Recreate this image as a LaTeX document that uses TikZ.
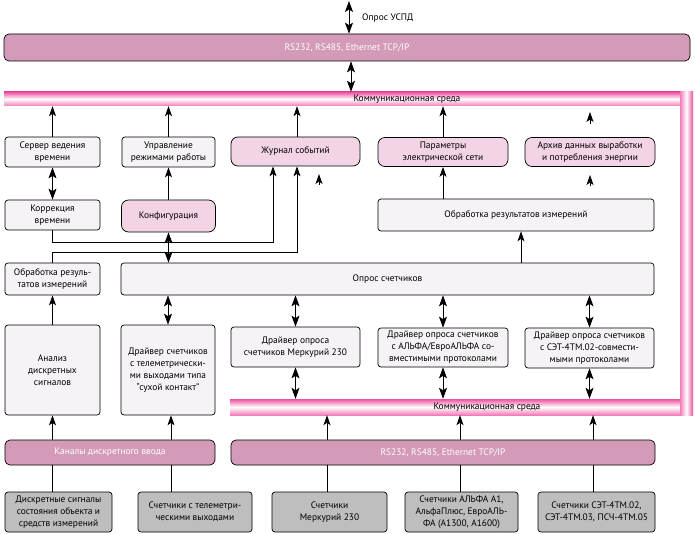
\documentclass[tikz,border=0pt]{standalone}
\usepackage{fontspec}
\setmainfont{PT Sans}
\usetikzlibrary{arrows.meta}
\definecolor{barpink}{RGB}{212,155,185}
\definecolor{lpink}{RGB}{243,212,228}
\definecolor{lgrey}{RGB}{245,243,245}
\definecolor{dgrey}{RGB}{190,190,190}
\definecolor{bandpink}{RGB}{238,80,160}
\begin{document}
\begin{tikzpicture}[x=1pt,y=-1pt,
 box/.style={draw=black, line width=0.7pt, align=center, inner sep=1pt, font=\fontsize{9.4}{12}\selectfont},
 gbox/.style={box, fill=lgrey, rounded corners=3pt},
 pbox/.style={box, fill=lpink, rounded corners=7pt},
 bar/.style={box, fill=barpink, rounded corners=5pt, text=white},
 dbox/.style={box, fill=dgrey, rounded corners=3pt},
 hband/.style={inner sep=0pt, top color=bandpink, bottom color=bandpink!75, middle color=white},
 vband/.style={inner sep=0pt, left color=bandpink!75, right color=bandpink, middle color=white},
 blabel/.style={inner sep=0pt, font=\fontsize{9.4}{11}\selectfont},
 arr/.style={-{Stealth[length=10pt,width=7pt,inset=2.5pt]}, line width=0.9pt},
 darr/.style={{Stealth[length=11pt,width=8pt,inset=2.5pt]}-{Stealth[length=11pt,width=8pt,inset=2.5pt]}, line width=0.9pt},
 ln/.style={line width=0.9pt}]
\useasboundingbox (0,0) rectangle (695,534);

% communication medium bands
\node[hband, minimum width=676pt, minimum height=14pt] (band1) at (342,99) {};
\node[hband, minimum width=450pt, minimum height=16pt] (band2) at (455,407) {};
\node[vband, minimum width=13pt, minimum height=323pt] (vstrip) at (686.5,253.5) {};
\node[blabel] (band1lab) at (407,99) {Коммуникационная среда};
\node[blabel] (band2lab) at (487,407) {Коммуникационная среда};

% top bar
\node[bar, minimum width=686pt, minimum height=27pt] (topbar) at (347,47.5) {RS232, RS485, Ethernet TCP/IP};
\node[blabel, anchor=west] (uspdlab) at (362,18) {Опрос УСПД};

% row 1
\node[gbox, minimum width=95pt, minimum height=30pt] (serv) at (52.5,152) {Сервер ведения\\времени};
\node[gbox, minimum width=93pt, minimum height=30pt] (upr) at (168.5,152) {Управление\\режимами работы};
\node[pbox, minimum width=129pt, minimum height=29pt] (jour) at (295.5,151.5) {Журнал событий};
\node[pbox, minimum width=130pt, minimum height=29pt] (par) at (443,152) {Параметры\\электрической сети};
\node[pbox, minimum width=130pt, minimum height=29pt] (arch) at (590,152) {Архив данных выработки\\и потребления энергии};

% row 2
\node[gbox, minimum width=95pt, minimum height=30pt] (korr) at (52.5,215) {Коррекция\\времени};
\node[pbox, minimum width=94pt, minimum height=32pt] (conf) at (168.5,216) {Конфигурация};
\node[gbox, minimum width=276pt, minimum height=32pt] (obr) at (516,215) {Обработка результатов измерений};

% row 3
\node[gbox, minimum width=95pt, minimum height=32pt] (obrl) at (52.5,279) {Обработка резуль-\\татов измерений};
\node[gbox, minimum width=533pt, minimum height=32pt] (opros) at (387.5,279) {Опрос счетчиков};

% row 4
\node[gbox, minimum width=95pt, minimum height=90pt] (anal) at (52.5,370) {Анализ\\дискретных\\сигналов};
\node[gbox, minimum width=94pt, minimum height=90pt] (drvT) at (168,370) {Драйвер счетчиков\\с телеметрически-\\ми выходами типа\\“сухой контакт”};
\node[gbox, minimum width=129pt, minimum height=40pt] (drvM) at (295.5,347) {Драйвер опроса\\счетчиков Меркурий 230};
\node[gbox, minimum width=130pt, minimum height=39pt] (drvA) at (443,347.5) {Драйвер опроса счетчиков\\с АЛЬФА/ЕвроАЛЬФА со-\\вместимыми протоколами};
\node[gbox, minimum width=129pt, minimum height=40pt] (drvS) at (589.5,348) {Драйвер опроса счетчиков\\с СЭТ-4ТМ.02-совмести-\\мыми протоколами};

% lower bars
\node[bar, minimum width=210pt, minimum height=25pt] (kan) at (110,452.5) {Каналы дискретного ввода};
\node[bar, minimum width=424pt, minimum height=25pt] (rsb) at (443,452.5) {RS232, RS485, Ethernet TCP/IP};

% bottom boxes
\node[dbox, minimum width=107pt, minimum height=40pt] (b1) at (58.5,512) {Дискретные сигналы\\состояния объекта и\\средств измерений};
\node[dbox, minimum width=114pt, minimum height=40pt] (b2) at (195,512) {Счетчики с телеметри-\\ческими выходами};
\node[dbox, minimum width=115pt, minimum height=40pt] (b3) at (329.5,512) {Счетчики\\Меркурий 230};
\node[dbox, minimum width=113pt, minimum height=40pt] (b4) at (461.5,512) {Счетчики АЛЬФА А1,\\АльфаПлюс, ЕвроАЛЬ-\\ФА (А1300, А1600)};
\node[dbox, minimum width=117pt, minimum height=40pt] (b5) at (596.5,512) {Счетчики СЭТ-4ТМ.02,\\СЭТ-4ТМ.03, ПСЧ-4ТМ.05};

% coordinates
\coordinate (uspd) at (349,1);
\coordinate (tb) at (351,0);
\coordinate (xjour) at (297,0);
\coordinate (jA) at (273,242);
\coordinate (jB) at (297,252);
\coordinate (jf1) at (319,185);
\coordinate (jf2) at (319,174);
\coordinate (af1) at (590,186);
\coordinate (af2) at (590,175);
\coordinate (ar1) at (590,124);
\coordinate (ar2) at (590,112);
\coordinate (xobr) at (521,0);
\coordinate (xT) at (171,0);
\coordinate (x3) at (327,0);
\coordinate (x4) at (460,0);
\coordinate (x5) at (593,0);

% top connections
\draw[darr] (uspd) -- (uspd |- topbar.north);
\draw[darr] (tb |- topbar.south) -- (tb |- band1.north);

% row 1 to band
\draw[arr] (serv.north) -- (serv.north |- band1.south);
\draw[arr] (upr.north) -- (upr.north |- band1.south);
\draw[arr] (xjour |- jour.north) -- (xjour |- band1.south);
\draw[arr] (par.north) -- (par.north |- band1.south);
\draw[arr] (ar1) -- (ar2);

% between rows 1 and 2
\draw[darr] (korr.north) -- (serv.south);
\draw[arr] (conf.north) -- (upr.south);
\draw[arr] (obr.north -| par.south) -- (par.south);
\draw[arr] (jf1) -- (jf2);
\draw[arr] (af1) -- (af2);

% lines to journal
\draw[arr] (korr.south) |- (jA) -- (jA |- jour.south);
\draw[arr] (obrl.north) |- (jB) -- (jB |- jour.south);
\draw[darr] (conf.south) -- (conf.south |- opros.north);
\draw[arr] (xobr |- opros.north) -- (xobr |- obr.south);

% row 3 / row 4
\draw[arr] (anal.north) -- (obrl.south);
\draw[darr] (drvT.north) -- (drvT.north |- opros.south);
\draw[darr] (drvM.north) -- (drvM.north |- opros.south);
\draw[darr] (drvA.north) -- (drvA.north |- opros.south);
\draw[darr] (drvS.north) -- (drvS.north |- opros.south);

% drivers to lower band
\draw[darr] (drvM.south) -- (drvM.south |- band2.north);
\draw[darr] (drvA.south) -- (drvA.south |- band2.north);
\draw[darr] (drvS.south) -- (drvS.south |- band2.north);

% lower bars up
\draw[arr] (anal.south |- kan.north) -- (anal.south);
\draw[arr] (xT |- kan.north) -- (xT |- drvT.south);
\draw[arr] (x3 |- rsb.north) -- (x3 |- band2.south);
\draw[arr] (x4 |- rsb.north) -- (x4 |- band2.south);
\draw[arr] (x5 |- rsb.north) -- (x5 |- band2.south);

% bottom boxes to bars
\draw[ln] (anal.south |- b1.north) -- (anal.south |- kan.south);
\draw[ln] (xT |- b2.north) -- (xT |- kan.south);
\draw[ln] (x3 |- b3.north) -- (x3 |- rsb.south);
\draw[ln] (x4 |- b4.north) -- (x4 |- rsb.south);
\draw[ln] (x5 |- b5.north) -- (x5 |- rsb.south);
\end{tikzpicture}
\end{document}
